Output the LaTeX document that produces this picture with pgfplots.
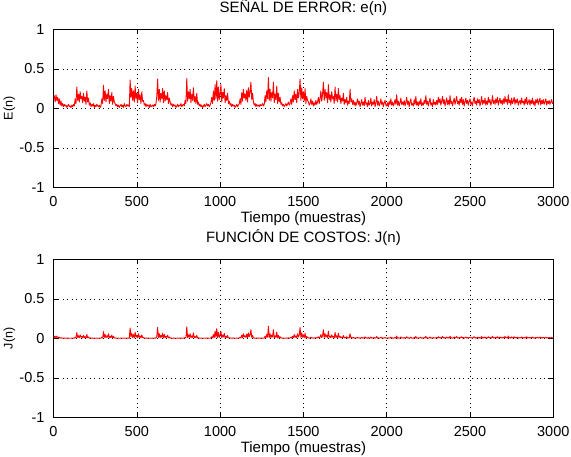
\documentclass[border=0pt]{standalone}
\usepackage{fontspec}
\setmainfont{Liberation Sans}
\usepackage{pgfplots}
\usepackage{pgfplotstable}
\pgfplotsset{compat=1.18}
\pgfplotstableread{
n e j
0 0.12 0.014
5 0.16 0.026
10 0.08 0.006
15 0.17 0.029
20 0.10 0.010
25 0.14 0.020
30 0.06 0.004
35 0.12 0.014
40 0.04 0.002
45 0.09 0.008
50 0.03 0.001
55 0.06 0.004
60 0.02 0.000
65 0.05 0.003
70 0.03 0.001
75 0.04 0.002
80 0.01 0.000
85 0.03 0.001
90 0.05 0.003
95 0.02 0.000
100 0.03 0.001
105 0.01 0.000
110 0.04 0.002
115 0.02 0.000
120 0.05 0.003
125 0.03 0.001
130 0.12 0.014
135 0.06 0.004
140 0.27 0.073
145 0.10 0.010
150 0.18 0.032
155 0.08 0.006
160 0.21 0.044
165 0.12 0.014
170 0.15 0.023
175 0.07 0.005
180 0.19 0.036
185 0.09 0.008
190 0.14 0.020
195 0.05 0.003
200 0.22 0.048
205 0.08 0.006
210 0.13 0.017
215 0.04 0.002
220 0.07 0.005
225 0.02 0.000
230 0.05 0.003
235 0.03 0.001
240 0.06 0.004
245 0.01 0.000
250 0.04 0.002
255 0.02 0.000
260 0.05 0.003
265 0.03 0.001
270 0.02 0.000
275 0.04 0.002
280 0.01 0.000
285 0.03 0.001
290 0.12 0.014
295 0.06 0.004
300 0.29 0.084
305 0.10 0.010
310 0.22 0.048
315 0.08 0.006
320 0.18 0.032
325 0.12 0.014
330 0.24 0.058
335 0.06 0.004
340 0.16 0.026
345 0.09 0.008
350 0.20 0.040
355 0.05 0.003
360 0.15 0.023
365 0.08 0.006
370 0.06 0.004
375 0.03 0.001
380 0.05 0.003
385 0.02 0.000
390 0.04 0.002
395 0.01 0.000
400 0.03 0.001
405 0.05 0.003
410 0.02 0.000
415 0.04 0.002
420 0.01 0.000
425 0.06 0.004
430 0.03 0.001
435 0.02 0.000
440 0.05 0.003
445 0.03 0.001
450 0.04 0.002
455 0.02 0.000
460 0.36 0.130
465 0.14 0.020
470 0.25 0.063
475 0.10 0.010
480 0.22 0.048
485 0.08 0.006
490 0.28 0.078
495 0.12 0.014
500 0.19 0.036
505 0.07 0.005
510 0.24 0.058
515 0.11 0.012
520 0.17 0.029
525 0.06 0.004
530 0.21 0.044
535 0.09 0.008
540 0.10 0.010
545 0.04 0.002
550 0.06 0.004
555 0.02 0.000
560 0.05 0.003
565 0.03 0.001
570 0.04 0.002
575 0.01 0.000
580 0.05 0.003
585 0.02 0.000
590 0.03 0.001
595 0.04 0.002
600 0.02 0.000
605 0.05 0.003
610 0.03 0.001
615 0.06 0.004
620 0.15 0.023
625 0.37 0.137
630 0.10 0.010
635 0.24 0.058
640 0.08 0.006
645 0.19 0.036
650 0.12 0.014
655 0.25 0.063
660 0.07 0.005
665 0.22 0.048
670 0.09 0.008
675 0.16 0.026
680 0.11 0.012
685 0.20 0.040
690 0.06 0.004
695 0.13 0.017
700 0.08 0.006
705 0.04 0.002
710 0.06 0.004
715 0.02 0.000
720 0.05 0.003
725 0.03 0.001
730 0.04 0.002
735 0.01 0.000
740 0.03 0.001
745 0.05 0.003
750 0.02 0.000
755 0.04 0.002
760 0.03 0.001
765 0.06 0.004
770 0.02 0.000
775 0.04 0.002
780 0.05 0.003
785 0.03 0.001
790 0.10 0.010
795 0.06 0.004
800 0.38 0.144
805 0.09 0.008
810 0.21 0.044
815 0.12 0.014
820 0.24 0.058
825 0.07 0.005
830 0.18 0.032
835 0.10 0.010
840 0.26 0.068
845 0.08 0.006
850 0.15 0.023
855 0.06 0.004
860 0.19 0.036
865 0.05 0.003
870 0.08 0.006
875 0.03 0.001
880 0.05 0.003
885 0.02 0.000
890 0.04 0.002
895 0.01 0.000
900 0.03 0.001
905 0.05 0.003
910 0.02 0.000
915 0.04 0.002
920 0.06 0.004
925 0.03 0.001
930 0.05 0.003
935 0.02 0.000
940 0.04 0.002
945 0.07 0.005
950 0.14 0.020
955 0.06 0.004
960 0.22 0.048
965 0.10 0.010
970 0.30 0.090
975 0.12 0.014
980 0.35 0.123
985 0.09 0.008
990 0.27 0.073
995 0.11 0.012
1000 0.18 0.032
1005 0.30 0.090
1010 0.08 0.006
1015 0.20 0.040
1020 0.13 0.017
1025 0.25 0.063
1030 0.07 0.005
1035 0.16 0.026
1040 0.10 0.010
1045 0.19 0.036
1050 0.06 0.004
1055 0.09 0.008
1060 0.04 0.002
1065 0.06 0.004
1070 0.02 0.000
1075 0.05 0.003
1080 0.03 0.001
1085 0.04 0.002
1090 0.01 0.000
1095 0.03 0.001
1100 0.05 0.003
1105 0.02 0.000
1110 0.04 0.002
1115 0.06 0.004
1120 0.12 0.014
1125 0.05 0.003
1130 0.20 0.040
1135 0.09 0.008
1140 0.24 0.058
1145 0.13 0.017
1150 0.18 0.032
1155 0.10 0.010
1160 0.23 0.053
1165 0.08 0.006
1170 0.26 0.068
1175 0.14 0.020
1180 0.21 0.044
1185 0.33 0.109
1190 0.11 0.012
1195 0.19 0.036
1200 0.08 0.006
1205 0.04 0.002
1210 0.06 0.004
1215 0.02 0.000
1220 0.05 0.003
1225 0.03 0.001
1230 0.04 0.002
1235 0.02 0.000
1240 0.05 0.003
1245 0.03 0.001
1250 0.04 0.002
1255 0.06 0.004
1260 0.03 0.001
1265 0.05 0.003
1270 0.16 0.026
1275 0.08 0.006
1280 0.22 0.048
1285 0.12 0.014
1290 0.39 0.152
1295 0.10 0.010
1300 0.24 0.058
1305 0.09 0.008
1310 0.20 0.040
1315 0.13 0.017
1320 0.33 0.109
1325 0.07 0.005
1330 0.18 0.032
1335 0.11 0.012
1340 0.28 0.078
1345 0.06 0.004
1350 0.19 0.036
1355 0.08 0.006
1360 0.14 0.020
1365 0.05 0.003
1370 0.07 0.005
1375 0.03 0.001
1380 0.05 0.003
1385 0.02 0.000
1390 0.04 0.002
1395 0.06 0.004
1400 0.03 0.001
1405 0.05 0.003
1410 0.08 0.006
1415 0.04 0.002
1420 0.06 0.004
1425 0.12 0.014
1430 0.05 0.003
1435 0.16 0.026
1440 0.08 0.006
1445 0.22 0.048
1450 0.11 0.012
1455 0.18 0.032
1460 0.07 0.005
1465 0.24 0.058
1470 0.13 0.017
1475 0.20 0.040
1480 0.37 0.137
1485 0.10 0.010
1490 0.26 0.068
1495 0.12 0.014
1500 0.21 0.044
1505 0.09 0.008
1510 0.25 0.063
1515 0.06 0.004
1520 0.15 0.023
1525 0.10 0.010
1530 0.08 0.006
1535 0.04 0.002
1540 0.06 0.004
1545 0.12 0.014
1550 0.05 0.003
1555 0.09 0.008
1560 0.03 0.001
1565 0.07 0.005
1570 0.04 0.002
1575 0.10 0.010
1580 0.05 0.003
1585 0.08 0.006
1590 0.14 0.020
1595 0.06 0.004
1600 0.12 0.014
1605 0.22 0.048
1610 0.09 0.008
1615 0.18 0.032
1620 0.33 0.109
1625 0.10 0.010
1630 0.24 0.058
1635 0.13 0.017
1640 0.20 0.040
1645 0.07 0.005
1650 0.30 0.090
1655 0.11 0.012
1660 0.17 0.029
1665 0.08 0.006
1670 0.21 0.044
1675 0.12 0.014
1680 0.15 0.023
1685 0.06 0.004
1690 0.27 0.073
1695 0.10 0.010
1700 0.18 0.032
1705 0.08 0.006
1710 0.25 0.063
1715 0.11 0.012
1720 0.16 0.026
1725 0.06 0.004
1730 0.13 0.017
1735 0.09 0.008
1740 0.19 0.036
1745 0.05 0.003
1750 0.11 0.012
1755 0.07 0.005
1760 0.14 0.020
1765 0.04 0.002
1770 0.09 0.008
1775 0.06 0.004
1780 0.24 0.058
1785 0.08 0.006
1790 0.12 0.014
1795 0.05 0.003
1800 0.10 0.010
1805 0.04 0.002
1810 0.08 0.006
1815 0.03 0.001
1820 0.07 0.005
1825 0.12 0.014
1830 0.05 0.003
1835 0.09 0.008
1840 0.02 0.000
1845 0.06 0.004
1850 0.11 0.012
1855 0.04 0.002
1860 0.08 0.006
1865 0.03 0.001
1870 0.14 0.020
1875 0.05 0.003
1880 0.07 0.005
1885 0.02 0.000
1890 0.10 0.010
1895 0.04 0.002
1900 0.06 0.004
1905 0.13 0.017
1910 0.03 0.001
1915 0.08 0.006
1920 0.05 0.003
1925 0.11 0.012
1930 0.02 0.000
1935 0.07 0.005
1940 0.15 0.023
1945 0.04 0.002
1950 0.09 0.008
1955 0.03 0.001
1960 0.06 0.004
1965 0.12 0.014
1970 0.05 0.003
1975 0.08 0.006
1980 0.02 0.000
1985 0.07 0.005
1990 0.10 0.010
1995 0.04 0.002
2000 0.03 0.001
2005 0.07 0.005
2010 0.02 0.000
2015 0.09 0.008
2020 0.05 0.003
2025 0.12 0.014
2030 0.04 0.002
2035 0.08 0.006
2040 0.03 0.001
2045 0.06 0.004
2050 0.11 0.012
2055 0.05 0.003
2060 0.17 0.029
2065 0.04 0.002
2070 0.09 0.008
2075 0.03 0.001
2080 0.07 0.005
2085 0.13 0.017
2090 0.05 0.003
2095 0.08 0.006
2100 0.04 0.002
2105 0.10 0.010
2110 0.03 0.001
2115 0.07 0.005
2120 0.14 0.020
2125 0.05 0.003
2130 0.09 0.008
2135 0.02 0.000
2140 0.08 0.006
2145 0.12 0.014
2150 0.04 0.002
2155 0.06 0.004
2160 0.03 0.001
2165 0.11 0.012
2170 0.05 0.003
2175 0.15 0.023
2180 0.04 0.002
2185 0.08 0.006
2190 0.03 0.001
2195 0.09 0.008
2200 0.05 0.003
2205 0.12 0.014
2210 0.03 0.001
2215 0.07 0.005
2220 0.04 0.002
2225 0.10 0.010
2230 0.06 0.004
2235 0.16 0.026
2240 0.05 0.003
2245 0.09 0.008
2250 0.03 0.001
2255 0.08 0.006
2260 0.13 0.017
2265 0.04 0.002
2270 0.07 0.005
2275 0.02 0.000
2280 0.11 0.012
2285 0.05 0.003
2290 0.08 0.006
2295 0.04 0.002
2300 0.10 0.010
2305 0.05 0.003
2310 0.14 0.020
2315 0.07 0.005
2320 0.12 0.014
2325 0.04 0.002
2330 0.09 0.008
2335 0.15 0.023
2340 0.06 0.004
2345 0.11 0.012
2350 0.03 0.001
2355 0.08 0.006
2360 0.13 0.017
2365 0.05 0.003
2370 0.10 0.010
2375 0.04 0.002
2380 0.16 0.026
2385 0.06 0.004
2390 0.09 0.008
2395 0.03 0.001
2400 0.08 0.006
2405 0.13 0.017
2410 0.05 0.003
2415 0.10 0.010
2420 0.15 0.023
2425 0.06 0.004
2430 0.09 0.008
2435 0.04 0.002
2440 0.12 0.014
2445 0.07 0.005
2450 0.14 0.020
2455 0.05 0.003
2460 0.11 0.012
2465 0.03 0.001
2470 0.08 0.006
2475 0.13 0.017
2480 0.06 0.004
2485 0.10 0.010
2490 0.04 0.002
2495 0.09 0.008
2500 0.12 0.014
2505 0.05 0.003
2510 0.08 0.006
2515 0.03 0.001
2520 0.10 0.010
2525 0.14 0.020
2530 0.06 0.004
2535 0.09 0.008
2540 0.04 0.002
2545 0.12 0.014
2550 0.07 0.005
2555 0.11 0.012
2560 0.03 0.001
2565 0.08 0.006
2570 0.15 0.023
2575 0.05 0.003
2580 0.10 0.010
2585 0.06 0.004
2590 0.13 0.017
2595 0.04 0.002
2600 0.09 0.008
2605 0.05 0.003
2610 0.14 0.020
2615 0.07 0.005
2620 0.11 0.012
2625 0.04 0.002
2630 0.08 0.006
2635 0.16 0.026
2640 0.06 0.004
2645 0.10 0.010
2650 0.05 0.003
2655 0.12 0.014
2660 0.07 0.005
2665 0.14 0.020
2670 0.04 0.002
2675 0.09 0.008
2680 0.13 0.017
2685 0.06 0.004
2690 0.10 0.010
2695 0.05 0.003
2700 0.12 0.014
2705 0.06 0.004
2710 0.15 0.023
2715 0.08 0.006
2720 0.11 0.012
2725 0.05 0.003
2730 0.17 0.029
2735 0.07 0.005
2740 0.10 0.010
2745 0.04 0.002
2750 0.13 0.017
2755 0.06 0.004
2760 0.09 0.008
2765 0.14 0.020
2770 0.05 0.003
2775 0.11 0.012
2780 0.07 0.005
2785 0.12 0.014
2790 0.04 0.002
2795 0.08 0.006
2800 0.10 0.010
2805 0.05 0.003
2810 0.13 0.017
2815 0.07 0.005
2820 0.09 0.008
2825 0.04 0.002
2830 0.12 0.014
2835 0.06 0.004
2840 0.14 0.020
2845 0.05 0.003
2850 0.08 0.006
2855 0.11 0.012
2860 0.04 0.002
2865 0.10 0.010
2870 0.06 0.004
2875 0.13 0.017
2880 0.05 0.003
2885 0.09 0.008
2890 0.03 0.001
2895 0.11 0.012
2900 0.07 0.005
2905 0.12 0.014
2910 0.05 0.003
2915 0.09 0.008
2920 0.13 0.017
2925 0.04 0.002
2930 0.10 0.010
2935 0.06 0.004
2940 0.11 0.012
2945 0.05 0.003
2950 0.08 0.006
2955 0.12 0.014
2960 0.04 0.002
2965 0.09 0.008
2970 0.06 0.004
2975 0.10 0.010
2980 0.05 0.003
2985 0.08 0.006
2990 0.11 0.012
2995 0.06 0.004
3000 0.08 0.006
}\datatable
\pgfplotsset{
  mstyle/.style={
    scale only axis, width=499.8bp, height=158bp,
    xmin=0, xmax=3000, ymin=-1, ymax=1,
    xtick={0,500,1000,1500,2000,2500,3000},
    ytick={-1,-0.5,0,0.5,1},
    /pgf/number format/assume math mode=true,
    /pgf/number format/1000 sep={},
    grid=major,
    major grid style={black, line width=0.5bp, dash pattern=on 0.9bp off 3.6bp},
    tick align=inside, major tick length=5bp,
    tick style={black, line width=0.5bp},
    axis line style={black, line width=0.6bp},
    ticklabel style={font=\fontsize{14.5bp}{17bp}\selectfont},
    xticklabel style={anchor=base, yshift=-19.5bp},
    yticklabel style={anchor=east, xshift=-5.5bp},
    xlabel={Tiempo (muestras)},
    xlabel style={at={(axis description cs:0.5,0)}, anchor=base, yshift=-35.5bp, font=\fontsize{15bp}{18bp}\selectfont},
    ylabel style={at={(axis description cs:-0.082,0.5)}, anchor=base, font=\fontsize{12.5bp}{15bp}\selectfont},
    title style={at={(axis description cs:0.5,1)}, anchor=base, yshift=10.5bp, font=\fontsize{15bp}{18bp}\selectfont},
  }
}
\begin{document}
\begin{tikzpicture}[font=\fontsize{15bp}{18bp}\selectfont]
\useasboundingbox (0,0) rectangle (571bp,457bp);
\begin{axis}[mstyle, at={(53.5bp,269.7bp)}, anchor=south west,
  title={SEÑAL DE ERROR: e(n)}, ylabel={E(n)}]
\addplot[red, line width=0.9bp, line join=round] table[x=n, y=e] {\datatable};
\end{axis}
\begin{axis}[mstyle, at={(53.5bp,39.7bp)}, anchor=south west,
  title={FUNCIÓN DE COSTOS: J(n)}, ylabel={J(n)}]
\addplot[red, line width=0.9bp, line join=round] table[x=n, y=j] {\datatable};
\end{axis}
\end{tikzpicture}
\end{document}
